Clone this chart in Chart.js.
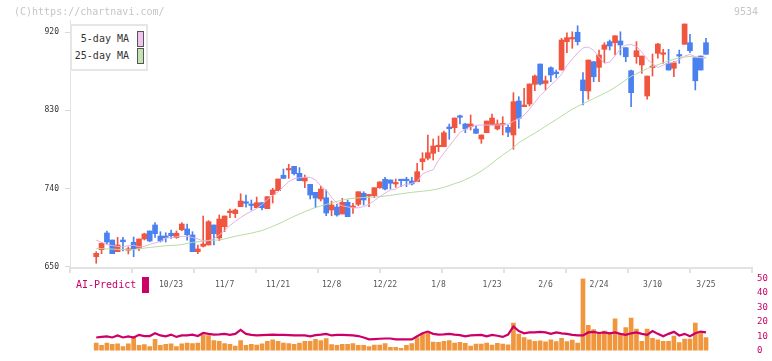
<!DOCTYPE html>
<html><head><meta charset="utf-8">
<script src="https://cdn.jsdelivr.net/npm/chart.js"></script>
<style>
html,body{margin:0;padding:0;background:#fff;}
#wrap{position:relative;width:772px;height:361px;overflow:hidden;font-family:"DejaVu Sans Mono",monospace;}
canvas{position:absolute;left:0;top:0;}
.hdr{position:absolute;top:6px;font-size:10px;line-height:12px;color:#c6c6c6;white-space:nowrap;}
#legend{position:absolute;left:70px;top:24px;width:74px;height:43px;border:2px solid #e6e6e6;background:#fff;}
.lrow{position:absolute;left:0;height:16px;line-height:16px;font-size:10px;color:#333;}
.ltxt{position:absolute;left:0;width:57px;text-align:right;white-space:nowrap;}
.lbox{position:absolute;left:65px;top:0;width:5px;height:14px;border:1px solid #555;}
#ailegend{position:absolute;left:76px;top:277px;height:16px;line-height:16px;font-size:10px;white-space:nowrap;}
#ailegend .abox{position:absolute;left:66px;top:0;width:7px;height:16px;}
</style></head>
<body><div id="wrap">
<canvas id="main" width="772" height="361"></canvas>
<canvas id="low" width="772" height="361"></canvas>
<div class="hdr" id="copy" style="left:14px">(C)https://chartnavi.com/</div>
<div class="hdr" id="code" style="left:734px">9534</div>
<div id="legend"></div>
<div id="ailegend"></div>
</div>
<script>
const dates = ["10/2","10/3","10/6","10/7","10/8","10/9","10/10","10/14","10/15","10/16","10/17","10/20","10/21","10/22",
"10/23","10/24","10/27","10/28","10/29","10/30","10/31","11/4","11/5","11/6","11/7",
"11/10","11/11","11/12","11/13","11/14","11/17","11/18","11/19","11/20","11/21",
"11/25","11/26","11/27","11/28","12/1","12/2","12/3","12/4","12/5","12/8",
"12/9","12/10","12/11","12/12","12/15","12/16","12/17","12/18","12/19","12/22",
"12/23","12/24","12/25","12/26","12/29","12/30","1/5","1/6","1/7","1/8",
"1/9","1/13","1/14","1/15","1/16","1/19","1/20","1/21","1/22","1/23",
"1/26","1/27","1/28","1/29","1/30","2/2","2/3","2/4","2/5","2/6",
"2/9","2/10","2/12","2/13","2/16","2/17","2/18","2/19","2/20","2/24",
"2/25","2/26","2/27","3/2","3/3","3/4","3/5","3/6","3/9","3/10",
"3/11","3/12","3/13","3/16","3/17","3/18","3/19","3/23","3/24","3/25"];
const tickDates = ["10/23","11/7","11/21","12/8","12/22","1/8","1/23","2/6","2/24","3/10","3/25"];
const priceTicks = [650,740,830,920];
const predictTicks = [0,10,20,30,40,50];

const opens = [661.8,669.9,689.1,681.0,667.6,681.0,669.2,678.4,671.5,682.2,
691.4,698.3,685.6,685.6,688.8,683.7,692.8,693.7,686.8,667.6,
673.8,675.3,698.3,683.3,696.3,712.4,711.3,719.3,725.0,722.1,
718.1,723.9,717.0,733.1,737.7,755.4,761.5,765.7,757.6,748.8,
745.0,735.8,728.1,729.6,715.5,718.9,710.9,724.3,718.2,722.0,
734.7,731.6,731.9,741.1,750.8,750.0,745.4,750.3,750.3,748.8,
748.0,771.0,774.9,780.6,788.2,788.2,810.9,810.0,823.5,814.3,
811.2,808.6,797.1,804.3,813.2,808.6,813.2,810.5,801.7,840.7,
834.2,837.3,859.9,883.2,861.0,879.0,874.0,876.3,908.9,912.0,
919.7,864.9,852.2,885.9,879.4,900.1,908.9,907.7,909.7,902.0,
875.5,891.6,882.1,846.5,879.0,895.5,894.4,884.0,878.3,893.6,
905.9,907.7,890.5,892.4,907.7];
const highs = [667.6,677.9,691.4,681.0,684.1,684.1,673.0,684.5,682.2,688.8,
691.4,701.0,690.6,689.4,692.5,691.4,701.0,699.4,690.6,675.3,
708.6,703.3,698.3,709.8,708.6,716.6,716.6,734.2,732.7,727.0,
730.4,723.9,730.8,740.4,751.1,762.6,768.0,765.7,764.2,755.7,
745.0,735.8,743.1,738.5,725.8,722.1,728.9,727.0,723.2,736.5,
736.5,733.2,741.1,748.1,753.1,750.0,751.1,750.3,753.1,753.1,
769.0,781.3,801.7,797.1,800.5,806.3,814.3,821.2,824.6,815.1,
824.6,811.9,801.7,817.7,825.8,818.9,822.7,813.2,850.3,845.7,
855.3,860.3,870.6,883.2,869.4,880.1,876.3,912.8,919.2,920.3,
927.2,873.3,887.8,885.9,899.3,907.7,910.8,915.7,920.3,902.0,
876.3,908.9,892.4,869.4,894.7,907.0,900.1,900.1,885.9,899.3,
929.2,917.4,890.5,892.4,912.8];
const lows = [654.3,665.3,676.1,665.3,667.6,668.4,665.0,661.8,668.7,681.0,
679.0,684.1,678.7,678.7,682.9,682.9,691.7,680.7,667.6,665.3,
673.0,675.3,675.3,680.2,690.6,706.7,706.7,719.3,718.6,715.5,
718.1,715.5,717.0,723.5,737.7,751.8,751.9,755.7,749.2,741.1,
728.1,718.1,725.8,708.9,708.9,708.3,710.9,707.8,711.7,720.4,
721.2,719.3,729.6,740.4,738.5,739.6,741.6,742.3,742.3,744.2,
748.0,761.5,772.9,772.9,782.5,788.2,796.7,804.3,814.3,804.3,
807.4,803.6,792.1,804.3,813.2,807.4,801.7,799.7,785.2,809.4,
834.2,835.0,852.6,859.1,853.4,862.9,867.5,876.3,896.2,901.3,
905.1,836.1,842.7,862.9,862.9,884.7,899.3,893.6,893.6,885.9,
834.2,884.0,872.5,842.7,869.4,889.8,884.0,876.3,868.6,884.0,
905.9,896.2,853.4,876.3,894.4];
const closes = [665.7,677.2,678.7,665.3,675.3,679.0,670.7,671.0,682.2,688.0,
679.9,688.3,679.9,683.7,686.0,688.8,699.4,687.1,667.6,670.7,
676.4,702.1,688.3,705.1,708.6,714.3,715.5,725.8,723.2,720.7,
723.9,718.1,730.8,738.5,751.1,751.8,763.0,757.2,749.2,752.6,
732.7,729.3,739.6,712.0,721.2,709.8,724.3,707.8,720.1,736.5,
727.0,733.2,741.1,747.7,739.6,746.2,746.9,749.2,749.2,745.4,
759.5,774.4,781.3,789.0,789.4,804.3,808.9,821.2,822.0,808.6,
814.3,803.6,801.7,817.7,821.2,814.3,814.7,804.8,839.9,820.8,
836.1,860.3,869.5,860.3,864.0,870.6,872.1,910.8,913.5,913.5,
908.9,852.6,887.8,868.6,893.6,905.1,903.9,915.7,905.1,891.6,
850.3,898.5,892.4,869.4,880.9,906.2,895.5,876.3,884.7,892.4,
929.2,898.5,864.0,876.3,894.4];
const ma5 = [680.9,678.4,675.9,674.6,673.7,673.3,674.4,675.0,673.1,673.8,
675.9,677.7,679.5,683.2,683.8,684.6,685.3,685.1,683.9,682.2,
680.0,680.5,682.2,687.0,691.9,697.7,702.5,706.9,710.8,714.1,
717.3,721.6,727.6,732.2,736.2,742.4,748.1,751.5,752.5,753.2,
753.1,750.0,743.1,738.2,730.1,723.2,720.2,719.1,718.0,718.0,
719.4,722.1,726.2,730.9,734.8,738.5,739.6,743.2,745.0,746.0,
748.1,756.9,759.8,761.8,772.9,781.0,788.9,796.9,804.6,808.1,
811.3,812.9,813.1,813.1,813.1,813.1,813.5,814.0,817.4,820.2,
824.6,831.0,839.2,846.8,852.9,859.1,864.6,871.5,881.5,888.8,
896.0,901.7,902.8,898.9,891.4,884.0,885.5,892.7,900.5,904.9,
905.6,903.6,896.9,888.9,883.6,879.2,881.9,884.3,885.0,888.0,
892.3,894.3,891.6,890.6,891.0];
const ma25 = [671.5,671.1,670.8,670.6,670.2,670.0,669.7,670.1,670.9,671.7,
672.5,673.1,673.8,674.4,674.8,675.1,675.8,677.1,678.3,679.0,
679.7,680.3,680.7,681.0,682.3,683.9,685.3,686.5,687.7,688.9,
690.4,691.9,694.2,696.8,699.3,702.2,705.2,708.2,710.9,713.5,
716.1,718.4,720.1,721.9,723.7,725.3,726.8,728.3,728.8,729.4,
729.9,730.2,730.5,730.8,731.5,732.3,733.2,734.1,735.0,735.8,
736.4,737.1,737.7,738.7,739.9,741.6,743.4,745.8,747.7,750.4,
753.2,756.6,760.3,764.6,769.1,774.1,778.7,782.9,787.6,792.6,
796.5,800.3,803.8,807.6,811.7,815.6,819.4,823.4,827.5,831.3,
834.6,837.7,840.5,843.5,846.5,849.6,852.7,856.4,860.6,865.0,
869.0,872.1,875.1,877.8,880.2,882.4,884.6,886.8,888.6,890.5,
891.3,891.9,891.3,890.6,890.1];
const volume = [5.3,3.6,5.3,4.3,4.7,2.8,4.7,9.9,3.6,4.1,
2.8,7.8,3.6,4.3,4.7,2.8,4.7,5.3,4.9,5.3,
10.9,10.5,7.0,6.4,4.9,4.3,3.2,7.0,3.6,4.3,
3.8,4.7,6.4,7.4,6.4,5.3,4.9,4.3,5.3,6.4,
6.4,7.8,7.0,8.4,4.1,3.6,4.3,4.3,4.9,3.6,
3.6,2.8,3.8,3.8,4.9,2.2,2.2,1.6,3.6,4.9,
9.1,11.6,12.0,5.9,5.7,6.4,7.0,5.3,5.7,5.0,
3.1,4.6,4.6,5.2,3.9,5.0,4.6,4.0,19.0,11.5,
9.0,7.5,6.5,6.7,6.0,7.5,6.2,8.5,6.2,7.3,
5.2,50.0,17.5,14.5,12.5,13.5,12.5,22.0,11.5,16.0,
22.5,15.0,6.5,15.0,8.5,7.5,6.5,6.5,10.0,5.5,
8.0,8.0,19.0,13.0,9.0];
const aiPredict = [9.1,9.5,9.9,9.1,10.5,9.1,9.9,9.1,10.9,10.1,
10.1,12.0,10.5,9.9,11.1,9.5,10.5,10.5,11.1,10.1,
12.2,11.6,11.1,11.3,11.6,10.9,11.6,14.3,11.6,10.9,
10.5,10.7,10.9,11.1,10.9,10.9,10.7,10.5,10.5,10.5,
9.9,10.7,11.1,11.6,10.5,10.9,10.9,10.7,10.5,10.1,
9.1,7.8,8.0,8.2,8.4,8.4,7.8,7.8,7.8,7.8,
9.9,12.0,13.2,11.6,11.1,11.3,11.6,11.1,10.7,9.9,
10.5,10.7,10.9,9.9,10.9,10.3,9.5,11.1,16.8,13.6,
12.0,12.6,12.6,13.0,12.6,11.6,12.6,12.0,11.6,10.9,
10.5,10.5,12.6,13.0,12.2,12.6,12.0,12.6,11.6,10.9,
12.0,12.6,11.6,10.9,13.6,11.6,9.9,11.6,13.0,10.5,
11.6,9.9,12.0,13.2,12.6];

const FONT = 'DejaVu Sans Mono';
const UP = '#f2553f', DOWN = '#4a80f0';
const MA5C = '#e4b2e4', MA25C = '#b6dba6';
const AIC = '#cc0066', VOLC = '#f0963c';
const idx = dates.map((d, i) => i);
const candleColor = idx.map(i => closes[i] >= opens[i] ? UP : DOWN);
const X_MIN = -4.9, X_MAX = 122.6;

Chart.defaults.font.family = FONT;

const mainChart = new Chart(document.getElementById('main'), {
  type: 'bar',
  data: {
    datasets: [
      { type: 'line', label: '5-day MA', data: idx.map(i => ({x: i, y: ma5[i]})),
        borderColor: MA5C, backgroundColor: '#f0c4f0', borderWidth: 1, pointRadius: 0, order: 1 },
      { type: 'line', label: '25-day MA', data: idx.map(i => ({x: i, y: ma25[i]})),
        borderColor: MA25C, backgroundColor: '#c4e2b4', borderWidth: 1, pointRadius: 0, order: 1 },
      { label: 'wick', data: idx.map(i => ({x: i, y: [lows[i], highs[i]]})),
        backgroundColor: candleColor, barThickness: 1, grouped: false, order: 3 },
      { label: 'body', data: idx.map(i => ({x: i, y: [opens[i], closes[i]]})),
        backgroundColor: candleColor, barThickness: 5, minBarLength: 1.5, grouped: false, order: 2 }
    ]
  },
  options: {
    animation: false, responsive: false,
    layout: { padding: { left: 0, right: 20, top: 20, bottom: 67 } },
    plugins: { legend: { display: false }, tooltip: { enabled: false } },
    scales: {
      x: {
        type: 'linear', min: X_MIN, max: X_MAX, offset: false, position: 'bottom', weight: 1,
        grid: { display: false, drawTicks: false, offset: false }, border: { display: false },
        afterBuildTicks: s => { s.ticks = tickDates.map(d => ({ value: dates.indexOf(d) })); },
        ticks: { callback: v => dates[v], font: { family: FONT, size: 8 }, color: '#555',
                 padding: 6, maxRotation: 0, autoSkip: false },
        afterFit: s => { s.height = 20; }
      },
      xg: {
        type: 'linear', min: 0, max: 11, offset: false, position: 'bottom', weight: 0,
        ticks: { display: false, stepSize: 1 },
        grid: { drawOnChartArea: false, tickLength: 5, color: '#e2e2e2', lineWidth: 2, offset: false },
        border: { display: true, color: '#e2e2e2', width: 2 },
        afterFit: s => { s.height = 6; }
      },
      y: {
        min: 648.85, max: 933.8, position: 'left',
        afterBuildTicks: s => { s.ticks = priceTicks.map(v => ({ value: v })); },
        grid: { drawOnChartArea: false, tickLength: 5, color: '#d8d8d8' },
        border: { display: true, color: '#e2e2e2' },
        ticks: { font: { family: FONT, size: 8 }, color: '#333', padding: 6 },
        afterFit: s => { s.width = 70; }
      }
    }
  }
});

const lowChart = new Chart(document.getElementById('low'), {
  type: 'bar',
  data: {
    datasets: [
      { type: 'line', label: 'AI-Predict', data: idx.map(i => ({x: i, y: aiPredict[i]})),
        borderColor: AIC, backgroundColor: AIC, borderWidth: 2.2, pointRadius: 0, order: 1 },
      { label: 'Volume', data: idx.map(i => ({x: i, y: volume[i]})),
        backgroundColor: VOLC, barThickness: 4, order: 2 }
    ]
  },
  options: {
    animation: false, responsive: false,
    layout: { padding: { left: 70, right: 0, top: 278.5, bottom: 2.5 } },
    plugins: { legend: { display: false }, tooltip: { enabled: false } },
    scales: {
      x: { type: 'linear', min: X_MIN, max: X_MAX, offset: false, grid: { offset: false }, display: false },
      y: {
        position: 'right', min: 0, max: 50,
        afterBuildTicks: s => { s.ticks = predictTicks.map(v => ({ value: v })); },
        grid: { display: false, drawTicks: false }, border: { display: false },
        ticks: { font: { family: FONT, size: 9 }, color: AIC, padding: 5 },
        afterFit: s => { s.width = 20; }
      }
    }
  }
});

// HTML legends generated from the chart datasets
const leg = document.getElementById('legend');
mainChart.data.datasets.filter(d => d.type === 'line').forEach((d, k) => {
  const row = document.createElement('div');
  row.className = 'lrow';
  row.style.top = (5 + 17 * k) + 'px';
  row.style.width = '74px';
  row.innerHTML = '<span class="ltxt"></span><span class="lbox"></span>';
  row.querySelector('.ltxt').textContent = d.label;
  row.querySelector('.lbox').style.background = d.backgroundColor;
  leg.appendChild(row);
});
const ai = document.getElementById('ailegend');
const aiDs = lowChart.data.datasets[0];
ai.innerHTML = '<span class="atxt"></span><span class="abox"></span>';
ai.querySelector('.atxt').textContent = aiDs.label;
ai.querySelector('.atxt').style.color = aiDs.borderColor;
ai.querySelector('.abox').style.background = aiDs.borderColor;
</script>
</body></html>
